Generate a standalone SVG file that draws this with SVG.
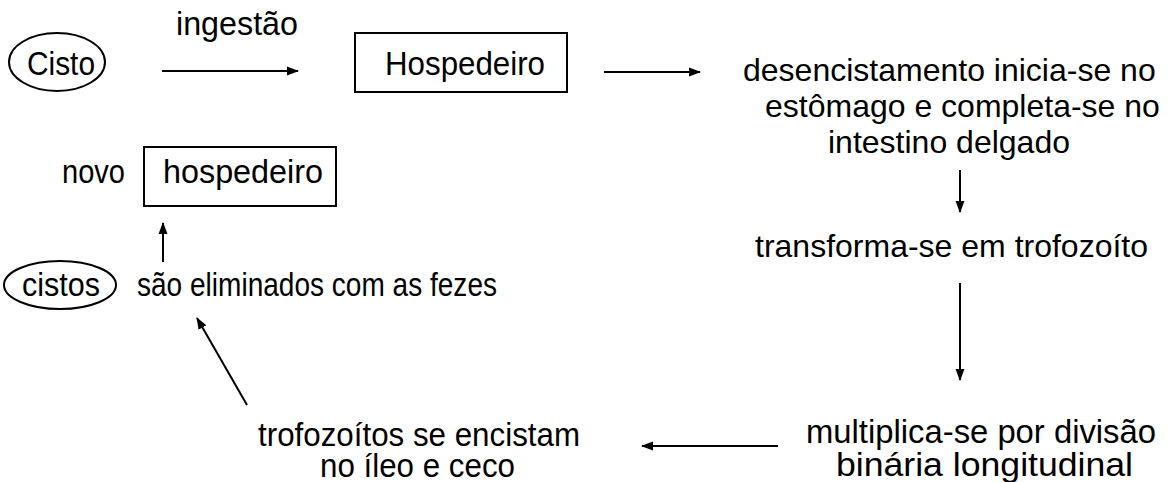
<svg xmlns="http://www.w3.org/2000/svg" width="1171" height="482" viewBox="0 0 1171 482">
<defs>
<style>
text{font-family:"Liberation Sans",Arial,sans-serif;font-size:34px;fill:#000}
text.m{font-size:32px}
.shape{fill:#fff;stroke:#000;stroke-width:2}
.conn{stroke:#000;stroke-width:2;fill:none;marker-end:url(#ah)}
</style>
<marker id="ah" markerUnits="userSpaceOnUse" markerWidth="12" markerHeight="10" refX="11" refY="5" orient="auto">
<path d="M0,0.5 L12,5 L0,9.5 z" fill="#000"/>
</marker>
</defs>
<rect width="1171" height="482" fill="#fff"/>
<g id="connectors">
<line class="conn" x1="162" y1="71" x2="298" y2="71"/>
<line class="conn" x1="604" y1="72" x2="700" y2="72"/>
<line class="conn" x1="960" y1="170" x2="960" y2="212"/>
<line class="conn" x1="960" y1="283" x2="960" y2="380"/>
<line class="conn" x1="778" y1="446" x2="642" y2="446"/>
<line class="conn" x1="247" y1="405" x2="197" y2="318"/>
<line class="conn" x1="163" y1="262" x2="163" y2="223"/>
</g>
<g id="label-ingestao"><text x="176" y="35" textLength="122" lengthAdjust="spacingAndGlyphs">ingestão</text></g>
<g id="node-cisto">
<ellipse class="shape" cx="57" cy="62" rx="48" ry="29"/>
<text x="27" y="75" textLength="68" lengthAdjust="spacingAndGlyphs">Cisto</text>
</g>
<g id="node-hospedeiro">
<rect class="shape" x="355" y="33" width="212" height="59"/>
<text x="385" y="75" textLength="160" lengthAdjust="spacingAndGlyphs">Hospedeiro</text>
</g>
<g id="node-desencistamento">
<text class="m" x="743" y="81">desencistamento inicia-se no</text>
<text class="m" x="765" y="117">estômago e completa-se no</text>
<text class="m" x="828" y="153">intestino delgado</text>
</g>
<g id="node-trofozoito">
<text class="m" x="755" y="257">transforma-se em trofozoíto</text>
</g>
<g id="node-multiplica">
<text x="806" y="443" textLength="350" lengthAdjust="spacingAndGlyphs">multiplica-se por divisão</text>
<text x="836" y="476" textLength="297" lengthAdjust="spacingAndGlyphs">binária longitudinal</text>
</g>
<g id="node-encistam">
<text x="258" y="446" textLength="322" lengthAdjust="spacingAndGlyphs">trofozoítos se encistam</text>
<text x="320" y="477" textLength="195" lengthAdjust="spacingAndGlyphs">no íleo e ceco</text>
</g>
<g id="node-cistos">
<ellipse class="shape" cx="60" cy="285" rx="56" ry="24"/>
<text x="22" y="296" textLength="78" lengthAdjust="spacingAndGlyphs">cistos</text>
<text x="137" y="296" textLength="360" lengthAdjust="spacingAndGlyphs">são eliminados com as fezes</text>
</g>
<g id="node-novo-hospedeiro">
<text x="62" y="183" textLength="63" lengthAdjust="spacingAndGlyphs">novo</text>
<rect class="shape" x="144" y="147" width="192" height="59"/>
<text x="163" y="183" textLength="160" lengthAdjust="spacingAndGlyphs">hospedeiro</text>
</g>
</svg>
